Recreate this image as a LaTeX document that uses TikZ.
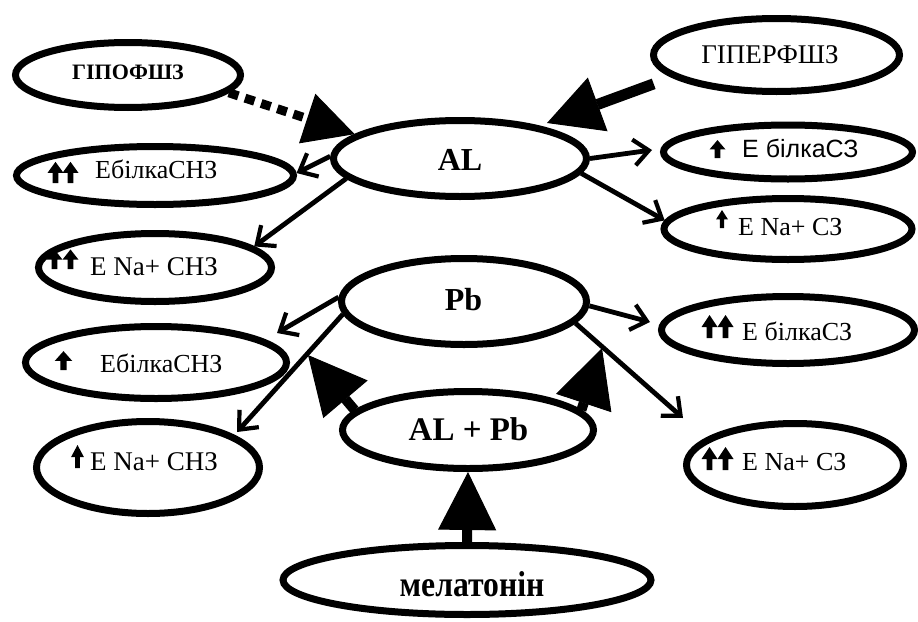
\documentclass[tikz,border=0pt]{standalone}
\usepackage{fontspec}
\usepackage{graphicx}
\setmainfont{Liberation Serif}
\newfontfamily\sansfam{Liberation Sans}
\usetikzlibrary{arrows.meta,shapes.geometric}
\newcommand{\fsz}[1]{\fontsize{#1}{#1}\selectfont}
\begin{document}
\begin{tikzpicture}[x=1pt,y=-1pt,
  oval/.style={draw, ellipse, line width=7pt, inner sep=0pt},
  txt/.style={inner sep=0pt, anchor=base west},
  ctxt/.style={inner sep=0pt, anchor=base},
  thinarr/.style={line width=4.8pt, -{Straight Barb[length=15pt,width=26pt,line width=4.2pt]}},
  bigarr/.style={line width=10pt, -{Triangle[length=58pt,width=58pt,line width=1pt]}},
  uparr/.pic={\fill (-2.9,0) -- (2.9,0) -- (2.9,-11) -- (8,-11) -- (0,-23) -- (-8,-11) -- (-2.9,-11) -- cycle;}
]
\useasboundingbox (0,0) rectangle (918,621);
% ellipses
\node[oval, minimum width=225pt, minimum height=65pt] (hypo) at (128,75) {};
\node[oval, minimum width=246pt, minimum height=73pt] (hyper) at (776.5,55) {};
\node[oval, minimum width=253pt, minimum height=76pt] (al) at (460,158.5) {};
\node[oval, minimum width=277pt, minimum height=58pt] (e1) at (155,175.5) {};
\node[oval, minimum width=233pt, minimum height=68pt] (e2) at (155,267.5) {};
\node[oval, minimum width=249pt, minimum height=54pt] (r1) at (788,152) {};
\node[oval, minimum width=248pt, minimum height=61pt] (r2) at (788,229) {};
\node[oval, minimum width=245pt, minimum height=86pt] (pb) at (464,301.5) {};
\node[oval, minimum width=261pt, minimum height=72pt] (l3) at (156,362.5) {};
\node[oval, minimum width=223pt, minimum height=92pt] (l4) at (148,467.5) {};
\node[oval, minimum width=253pt, minimum height=67pt] (r3) at (788,330) {};
\node[oval, minimum width=217pt, minimum height=83pt] (r4) at (795,465) {};
\node[oval, minimum width=251pt, minimum height=77pt] (alpb) at (468,430) {};
\node[oval, minimum width=368pt, minimum height=69pt] (mel) at (467,580) {};
% texts
\node[ctxt, font=\fsz{22}\bfseries] (thypo) at (128,79) {ГІПОФШЗ};
\node[ctxt, font=\fsz{27}] (thyper) at (770,63) {ГІПЕРФШЗ};
\node[ctxt, font=\fsz{32}\bfseries] (tal) at (460,170) {AL};
\node[ctxt, font=\fsz{32}\bfseries] (tpb) at (463.5,310) {Pb};
\node[ctxt, font=\fsz{33}\bfseries] (talpb) at (468.5,440) {AL + Pb};
\node[ctxt, font=\fsz{36}\bfseries] (tmel) at (472,596) {\scalebox{0.88}[1]{мелатонін}};
\node[txt, font=\fsz{26}] (te1) at (95,178) {ЕбілкаСНЗ};
\node[txt, font=\fsz{27}] (te2) at (90,275) {E Na+ CHЗ};
\node[txt, font=\sansfam\fsz{25}] (tr1) at (742,157) {Е білкаСЗ};
\node[txt, font=\fsz{26}] (tr2) at (738,235) {E Na+ СЗ};
\node[txt, font=\fsz{26}] (tl3) at (100,372) {ЕбілкаСНЗ};
\node[txt, font=\fsz{27}] (tl4) at (90,470) {E Na+ CHЗ};
\node[txt, font=\fsz{26}] (tr3) at (742,340) {E білкаСЗ};
\node[txt, font=\fsz{26}] (tr4) at (742,470) {E Na+ СЗ};
% up arrows
\pic[yscale=0.92] at (55.5,183) {uparr};
\pic[yscale=0.92] at (70.5,183) {uparr};
\pic[yscale=0.85] at (54.5,269) {uparr};
\pic[yscale=0.85] at (70.5,269) {uparr};
\pic[yscale=0.78] at (717.5,158) {uparr};
\pic[xscale=0.75,yscale=0.78] at (722,228) {uparr};
\pic[xscale=1.1,yscale=0.82] at (63.5,370) {uparr};
\pic[xscale=0.8,yscale=1.0] at (77.5,468) {uparr};
\pic[yscale=1.0] at (709.5,338) {uparr};
\pic[yscale=1.0] at (725.5,338) {uparr};
\pic[yscale=1.0] at (709.5,470) {uparr};
\pic[yscale=1.0] at (725.5,470) {uparr};
% free ends
\coordinate (tc) at (652,150);
\coordinate (te) at (277,333);
\coordinate (tf) at (237,432);
\coordinate (tg) at (650,322);
\coordinate (th) at (683,418);
\coordinate (thy) at (547,123);
\coordinate (tl) at (308,355);
\coordinate (tr) at (602,348);
% thin arrows
\draw[thinarr] (al.179) -- (e1.1);
\draw[thinarr] (al.190) -- (e2.12);
\draw[thinarr] (al.0) -- (tc);
\draw[thinarr] (al.-7) -- (r2.176);
\draw[thinarr] (pb.178) -- (te);
\draw[thinarr] (pb.186) -- (tf);
\draw[thinarr] (pb.-2) -- (tg);
\draw[thinarr] (pb.-11) -- (th);
% big arrows
\draw[line width=9pt, dash pattern=on 10pt off 7pt, -{Triangle[length=50pt,width=52pt,line width=1pt]}] (hypo.-10) -- (al.167);
\draw[line width=11pt, shorten <=19pt, -{Triangle[length=54pt,width=57pt,line width=1pt]}] (hyper.192) -- (thy);
\draw[bigarr] (alpb.170) -- (tl);
\draw[bigarr] (alpb.10) -- (tr);
\draw[bigarr] (mel.north) -- (alpb.south);
\end{tikzpicture}
\end{document}
